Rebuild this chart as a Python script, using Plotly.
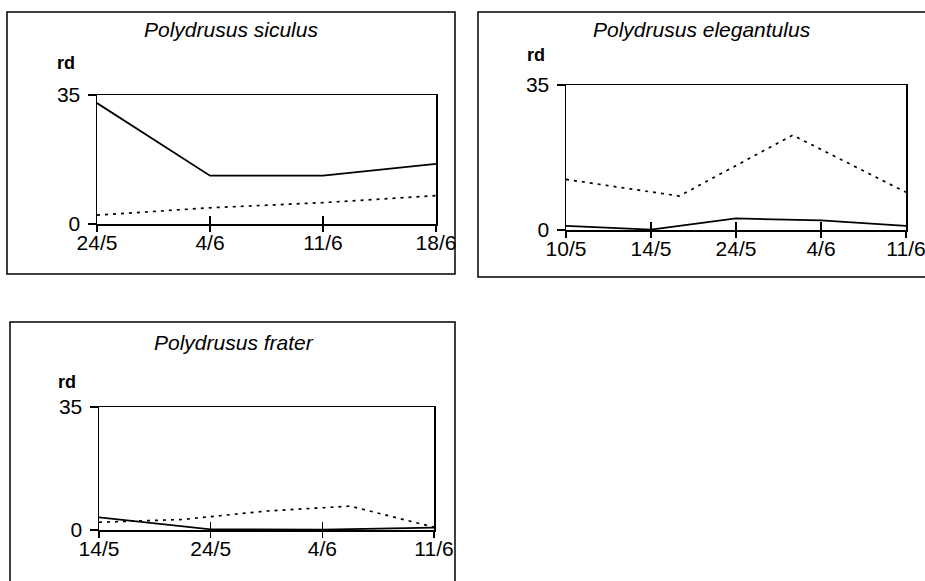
import plotly.graph_objects as go

W, H = 925, 581

# ---- data ----
titles = ["Polydrusus siculus", "Polydrusus elegantulus", "Polydrusus frater"]

siculus_dates = ["24/5", "4/6", "11/6", "18/6"]
siculus_solid = [32.8, 13.1, 13.1, 16.3]
siculus_dot_pos = [0, 1, 2, 3]
siculus_dot = [2.4, 4.4, 5.8, 7.7]

eleg_dates = ["10/5", "14/5", "24/5", "4/6", "11/6"]
eleg_solid = [1.0, 0.1, 2.8, 2.3, 1.0]
eleg_dot_pos = [0, 4/3, 8/3, 4]
eleg_dot = [12.2, 8.2, 22.9, 9.1]

frater_dates = ["14/5", "24/5", "4/6", "11/6"]
frater_solid = [3.6, 0.2, 0.1, 0.7]
frater_dot_pos = [0, 0.75, 1.5, 2.25, 3]
frater_dot = [2.2, 3.0, 5.4, 6.8, 0.8]

y_ticks = [0, 35]

# ---- layout geometry (pixels) ----
panels = [
    dict(dates=siculus_dates, solid=siculus_solid, dpos=siculus_dot_pos, dot=siculus_dot,
         plot=(97, 436, 95, 224), box=(7, 455, 12, 274), title=(231, 30), rd=(66, 63),
         xstand=-7),
    dict(dates=eleg_dates, solid=eleg_solid, dpos=eleg_dot_pos, dot=eleg_dot,
         plot=(566, 906, 85, 230), box=(478, 935, 12, 277), title=(702, 29), rd=(536, 55),
         xstand=-7),
    dict(dates=frater_dates, solid=frater_solid, dpos=frater_dot_pos, dot=frater_dot,
         plot=(99, 434, 407, 530), box=(10, 455, 322, 595), title=(234, 342), rd=(67, 382),
         xstand=-7),
]

FONT = "Liberation Sans, Arial, sans-serif"

fig = go.Figure()
layout = dict(width=W, height=H,
              margin=dict(l=0, r=0, t=0, b=0, pad=0, autoexpand=False),
              autosize=False,
              paper_bgcolor="white", plot_bgcolor="white", showlegend=False,
              font=dict(family=FONT, color="black"))
shapes = []
annotations = []

for i, p in enumerate(panels):
    n = i + 1
    xs = "" if n == 1 else str(n)
    xk, yk = f"xaxis{xs}", f"yaxis{xs}"
    xref, yref = f"x{xs}", f"y{xs}"
    x0, x1, y0, y1 = p["plot"]
    xdom = [x0 / W, x1 / W]
    ydom = [1 - y1 / H, 1 - y0 / H]
    npts = len(p["dates"])
    xpos = list(range(npts))

    fig.add_trace(go.Scatter(x=xpos, y=p["solid"], mode="lines",
                             line=dict(color="black", width=1.8),
                             xaxis=xref, yaxis=yref, hoverinfo="skip"))
    fig.add_trace(go.Scatter(x=p["dpos"], y=p["dot"], mode="lines",
                             line=dict(color="black", width=1.7, dash="3px,5px"),
                             xaxis=xref, yaxis=yref, hoverinfo="skip"))

    layout[xk] = dict(domain=xdom, anchor=yref, range=[0, npts - 1],
                      tickvals=xpos, ticktext=p["dates"], showgrid=False, zeroline=False,
                      showline=True, linecolor="black", linewidth=1.5, mirror=True,
                      ticks="outside", ticklen=6, tickwidth=1.3, tickcolor="black",
                      automargin=False, ticklabelstandoff=p["xstand"],
                      ticklabeloverflow="allow",
                      tickfont=dict(size=21, family=FONT, color="black"))
    layout[yk] = dict(domain=ydom, anchor=xref, range=[0, 35], tickvals=y_ticks,
                      showgrid=False, zeroline=False,
                      showline=True, linecolor="black", linewidth=1.5, mirror=True,
                      ticks="outside", ticklen=8, tickwidth=1.3, tickcolor="black",
                      automargin=False, ticklabelstandoff=3,
                      ticklabeloverflow="allow",
                      tickfont=dict(size=21, family=FONT, color="black"))

    # overlay axis for inward half of crossing x ticks
    ox = f"xaxis{n + 3}"
    layout[ox] = dict(domain=xdom, anchor=yref, overlaying=xref, matches=xref,
                      range=[0, npts - 1], tickvals=xpos, showticklabels=False,
                      showgrid=False, zeroline=False, showline=False, automargin=False,
                      ticks="inside", ticklen=8, tickwidth=1.3, tickcolor="black")
    fig.add_trace(go.Scatter(x=[None], y=[None], xaxis=f"x{n + 3}", yaxis=yref,
                             mode="lines", hoverinfo="skip"))

    bx0, bx1, by0, by1 = p["box"]
    shapes.append(dict(type="rect", xref="paper", yref="paper",
                       x0=bx0 / W, x1=bx1 / W, y0=1 - by1 / H, y1=1 - by0 / H,
                       line=dict(color="black", width=1.5), fillcolor="rgba(0,0,0,0)",
                       layer="below"))
    tx, ty = p["title"]
    annotations.append(dict(text=f"<i>{titles[i]}</i>", xref="paper", yref="paper",
                            x=tx / W, y=1 - ty / H, showarrow=False,
                            xanchor="center", yanchor="middle",
                            font=dict(size=21, family=FONT, color="black")))
    rx, ry = p["rd"]
    annotations.append(dict(text="<b>rd</b>", xref="paper", yref="paper",
                            x=rx / W, y=1 - ry / H, showarrow=False,
                            xanchor="center", yanchor="middle",
                            font=dict(size=18, family=FONT, color="black")))

layout["shapes"] = shapes
layout["annotations"] = annotations
fig.update_layout(**layout)
fig.write_html("out.html",
               config={"displayModeBar": False, "staticPlot": True},
               post_script="document.body.style.margin='0';document.body.style.overflow='hidden';")
